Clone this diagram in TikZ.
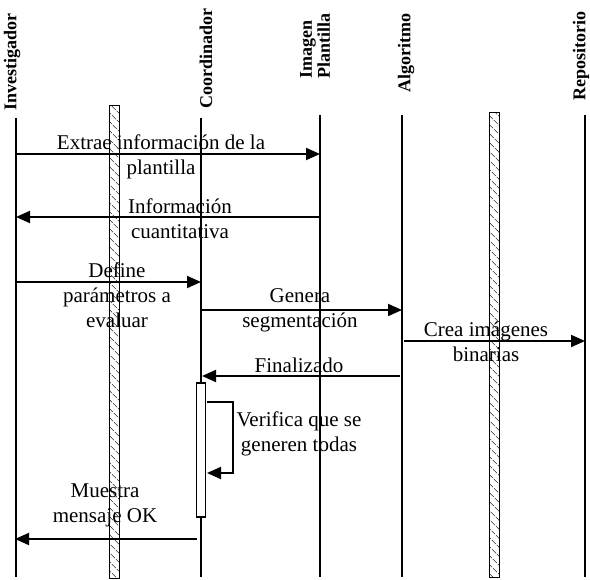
\documentclass[tikz,border=0pt]{standalone}
\usepackage{fontspec}
\setmainfont{Liberation Serif}
\usetikzlibrary{arrows.meta, patterns.meta}
\tikzstyle{lifeline}   = [line width=1.2pt]
\tikzstyle{hatchbar}   = [draw, line width=1pt, minimum width=10pt, inner sep=0pt,
    pattern={Lines[angle=-45, distance=6.5pt, line width=0.6pt]}]
\tikzstyle{actor}      = [rotate=90, anchor=west, inner sep=0pt, align=left,
    font=\fontsize{18}{18}\selectfont\bfseries]
\tikzstyle{msglabel}   = [inner sep=0pt, align=center,
    font=\fontsize{21}{25}\selectfont]
\tikzstyle{activation} = [draw, line width=1.2pt, fill=white,
    minimum width=9pt, inner sep=0pt]
\tikzstyle{arrow}      = [-{Triangle[length=14pt, width=12pt]}, line width=2pt]

\begin{document}
\begin{tikzpicture}[x=1pt, y=-1pt]
  \useasboundingbox (0,0) rectangle (590,580);

  % Actors
  \node[actor] (invname) at (12,111)  {Investigador};
  \node[actor] (cooname) at (206,109) {Coordinador};
  \node[actor] (pltname) at (315,79)  {Imagen\\Plantilla};
  \node[actor] (algname) at (406,93)  {Algoritmo};
  \node[actor] (repname) at (581,101) {Repositorio};

  % Lifelines
  \coordinate (inv) at (16,118);
  \coordinate (coo) at (201,118);
  \coordinate (plt) at (320,115);
  \coordinate (alg) at (402,115);
  \coordinate (rep) at (585,115);
  \coordinate (bottom) at (0,577);
  \foreach \l in {inv, coo, plt, alg, rep}
    \draw[lifeline] (\l) -- (\l |- bottom);

  % Hatched bars
  \node[hatchbar, minimum height=472pt] (bar1) at (114,342) {};
  \node[hatchbar, minimum height=464pt] (bar2) at (494,345) {};

  % Message rows
  \coordinate (r1) at (0,154);
  \coordinate (r2) at (0,217);
  \coordinate (r3) at (0,282);
  \coordinate (r4) at (0,310);
  \coordinate (r5) at (0,341);
  \coordinate (r6) at (0,376);
  \coordinate (r9) at (0,539);

  % Activation on Coordinador
  \node[activation, minimum height=134pt] (act) at (201,450) {};
  \coordinate (loopa) at (207,402);
  \coordinate (loopb) at (207,473);

  % Messages
  \draw[arrow] (inv |- r1) -- (plt |- r1);
  \draw[arrow] (plt |- r2) -- (inv |- r2);
  \draw[arrow] (inv |- r3) -- (coo |- r3);
  \draw[arrow] (coo |- r4) -- (alg |- r4);
  \draw[arrow] ([xshift=2pt]alg |- r5) -- (rep |- r5);
  \draw[arrow] ([xshift=-2pt]alg |- r6) -- ([xshift=1pt]coo |- r6);
  \draw[arrow] (loopa) -| ([xshift=26pt]loopa) |- (loopb);
  \draw[arrow] ([xshift=-4pt]coo |- r9) -- ([xshift=-1pt]inv |- r9);

  % Labels
  \node[msglabel] (m1) at (161,157) {Extrae información de la\\plantilla};
  \node[msglabel] (m2) at (180,219) {Información\\cuantitativa};
  \node[msglabel] (m3) at (117,295) {Define\\parámetros a\\evaluar};
  \node[msglabel] (m4) at (300,310) {Genera\\segmentación};
  \node[msglabel] (m5) at (486,342) {Crea imágenes\\binarias};
  \node[msglabel] (m6) at (299,365) {Finalizado};
  \node[msglabel] (m7) at (299,434) {Verifica que se\\generen todas};
  \node[msglabel] (m8) at (105,505) {Muestra\\mensaje OK};
\end{tikzpicture}
\end{document}
